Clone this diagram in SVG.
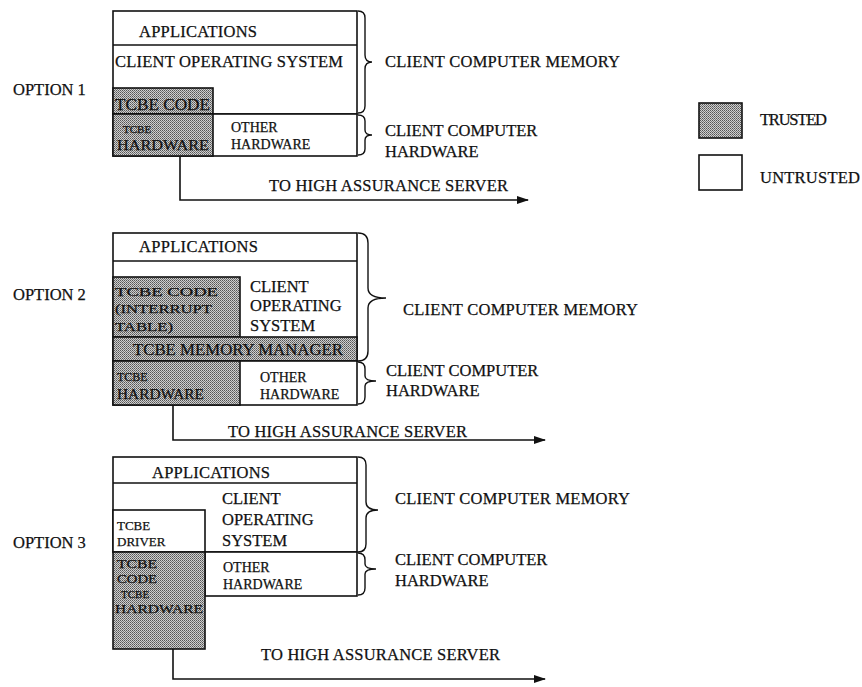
<svg xmlns="http://www.w3.org/2000/svg" width="862" height="687" viewBox="0 0 862 687">
<style>
text{font-family:"Liberation Serif","Times New Roman",serif;fill:#111;stroke:#111;stroke-width:0.25;}
.m{font-size:16.5px;}
.s{font-size:14px;}
.t{font-size:13px;}
.box{fill:#fff;stroke:#111;stroke-width:1.6;}
.tr{fill:url(#stip);stroke:#111;stroke-width:1.6;}
.ln{stroke:#111;stroke-width:1.6;fill:none;}
.br{stroke:#111;stroke-width:1.4;fill:none;}
.cn{stroke:#111;stroke-width:1.6;fill:none;}
</style>
<defs>
<pattern id="stip" width="2" height="2" patternUnits="userSpaceOnUse">
<rect width="2" height="2" fill="#cfcfcf"/>
<rect width="1" height="1" fill="#555"/>
<rect x="1" y="1" width="1" height="1" fill="#777"/>
</pattern>
<marker id="ah" markerWidth="12" markerHeight="8" refX="11" refY="4" orient="auto" markerUnits="userSpaceOnUse">
<path d="M0,0 L12,4 L0,8 Z" fill="#111"/>
</marker>
</defs>

<rect width="862" height="687" fill="#fff"/>

<!-- OPTION 1 -->
<g id="option1">
<text class="m" x="13" y="95">OPTION 1</text>
<g id="o1-memory">
<rect class="box" x="113" y="11" width="244" height="103"/>
<line class="ln" x1="113" y1="45" x2="357" y2="45"/>
<text class="m" x="139" y="37" textLength="118">APPLICATIONS</text>
<text class="m" x="115" y="67" textLength="228">CLIENT OPERATING SYSTEM</text>
</g>
<g id="o1-tcbe-code">
<rect class="tr" x="113" y="88" width="100" height="26"/>
<text class="m" x="115" y="110" textLength="95" lengthAdjust="spacingAndGlyphs">TCBE CODE</text>
</g>
<g id="o1-hardware">
<rect class="box" x="113" y="114" width="244" height="42"/>
<text class="s" x="231" y="132">OTHER</text>
<text class="s" x="231" y="149">HARDWARE</text>
</g>
<g id="o1-tcbe-hw">
<rect class="tr" x="113" y="114" width="100" height="42"/>
<text x="123" y="133" style="font-size:11px">TCBE</text>
<text class="s" x="117" y="150" textLength="92" lengthAdjust="spacingAndGlyphs">HARDWARE</text>
</g>
<g id="o1-braces">
<path class="br" d="M358,11 Q365,11 365,18 L365,55 Q365,62 372,62 Q365,62 365,69 L365,106 Q365,113 358,113"/>
<path class="br" d="M358,115 Q365,115 365,121 L365,130 Q365,135 372,135 Q365,135 365,140 L365,149 Q365,155 358,155"/>
<text class="m" x="385" y="67" textLength="235">CLIENT COMPUTER MEMORY</text>
<text class="m" x="385" y="136">CLIENT COMPUTER</text>
<text class="m" x="385" y="157">HARDWARE</text>
</g>
<text class="m" x="269" y="191" textLength="239">TO HIGH ASSURANCE SERVER</text>
</g>

<!-- LEGEND -->
<g id="legend-trusted">
<rect class="tr" x="699" y="103" width="43" height="35"/>
<text class="m" x="760" y="125" textLength="67">TRUSTED</text>
</g>
<g id="legend-untrusted">
<rect class="box" x="699" y="155" width="43" height="35"/>
<text class="m" x="760" y="183" textLength="100">UNTRUSTED</text>
</g>

<!-- OPTION 2 -->
<g id="option2">
<text class="m" x="13" y="300">OPTION 2</text>
<g id="o2-memory">
<rect class="box" x="113" y="233" width="244" height="128"/>
<line class="ln" x1="113" y1="261" x2="357" y2="261"/>
<text class="m" x="139" y="252" textLength="119">APPLICATIONS</text>
<text class="m" x="250" y="292">CLIENT</text>
<text class="m" x="250" y="311">OPERATING</text>
<text class="m" x="250" y="331">SYSTEM</text>
</g>
<g id="o2-tcbe-code">
<rect class="tr" x="113" y="277" width="127" height="60"/>
<text class="t" x="115" y="296" textLength="103" lengthAdjust="spacingAndGlyphs">TCBE CODE</text>
<text class="t" x="115" y="313" textLength="97" lengthAdjust="spacingAndGlyphs">(INTERRUPT</text>
<text class="t" x="115" y="331" textLength="58" lengthAdjust="spacingAndGlyphs">TABLE)</text>
</g>
<g id="o2-mem-mgr">
<rect class="tr" x="113" y="337" width="244" height="24"/>
<text class="m" x="133" y="355" textLength="210" lengthAdjust="spacingAndGlyphs">TCBE MEMORY MANAGER</text>
</g>
<g id="o2-hardware">
<rect class="box" x="113" y="361" width="244" height="44"/>
<text class="s" x="260" y="382">OTHER</text>
<text class="s" x="260" y="399">HARDWARE</text>
</g>
<g id="o2-tcbe-hw">
<rect class="tr" x="113" y="361" width="127" height="44"/>
<text x="117" y="381" style="font-size:12px">TCBE</text>
<text class="s" x="117" y="399" textLength="87" lengthAdjust="spacingAndGlyphs">HARDWARE</text>
</g>
<g id="o2-braces">
<path class="br" d="M358,233 Q368,233 368,243 L368,288 Q368,298 386,298 Q368,298 368,308 L368,351 Q368,361 358,361"/>
<path class="br" d="M358,362 Q365,362 365,369 L365,376 Q365,381 376,381 Q365,381 365,386 L365,397 Q365,404 358,404"/>
<text class="m" x="403" y="315" textLength="235">CLIENT COMPUTER MEMORY</text>
<text class="m" x="386" y="376">CLIENT COMPUTER</text>
<text class="m" x="386" y="396">HARDWARE</text>
</g>
<text class="m" x="228" y="437" textLength="239">TO HIGH ASSURANCE SERVER</text>
</g>

<!-- OPTION 3 -->
<g id="option3">
<text class="m" x="13" y="548">OPTION 3</text>
<g id="o3-memory">
<rect class="box" x="113" y="457" width="244" height="95"/>
<line class="ln" x1="113" y1="483" x2="357" y2="483"/>
<text class="m" x="152" y="478" textLength="118">APPLICATIONS</text>
<text class="m" x="222" y="504">CLIENT</text>
<text class="m" x="222" y="525">OPERATING</text>
<text class="m" x="222" y="546">SYSTEM</text>
</g>
<g id="o3-tcbe-driver">
<rect class="box" x="113" y="510" width="92" height="42"/>
<text x="117" y="530" style="font-size:13px">TCBE</text>
<text x="117" y="546" style="font-size:13px">DRIVER</text>
</g>
<g id="o3-hardware">
<rect class="box" x="205" y="552" width="152" height="44"/>
<text class="s" x="223" y="572">OTHER</text>
<text class="s" x="223" y="589">HARDWARE</text>
</g>
<g id="o3-tcbe">
<rect class="tr" x="113" y="552" width="92" height="97"/>
<text class="t" x="117" y="568" textLength="40" lengthAdjust="spacingAndGlyphs">TCBE</text>
<text class="t" x="117" y="583" textLength="40" lengthAdjust="spacingAndGlyphs">CODE</text>
<text x="121" y="598" style="font-size:11px">TCBE</text>
<text class="t" x="115" y="613" textLength="88" lengthAdjust="spacingAndGlyphs">HARDWARE</text>
</g>
<g id="o3-braces">
<path class="br" d="M358,457 Q366,457 366,465 L366,502 Q366,510 378,510 Q366,510 366,518 L366,544 Q366,552 358,552"/>
<path class="br" d="M358,553 Q365,553 365,560 L365,564 Q365,569 376,569 Q365,569 365,574 L365,588 Q365,595 358,595"/>
<text class="m" x="395" y="504" textLength="235">CLIENT COMPUTER MEMORY</text>
<text class="m" x="395" y="565">CLIENT COMPUTER</text>
<text class="m" x="395" y="586">HARDWARE</text>
</g>
<text class="m" x="261" y="660" textLength="239">TO HIGH ASSURANCE SERVER</text>
</g>

<!-- CONNECTORS -->
<g id="connectors">
<path class="cn" d="M180,156 V200 H528" marker-end="url(#ah)"/>
<path class="cn" d="M173,405 V440 H545" marker-end="url(#ah)"/>
<path class="cn" d="M173,649 V679 H545" marker-end="url(#ah)"/>
</g>
</svg>
